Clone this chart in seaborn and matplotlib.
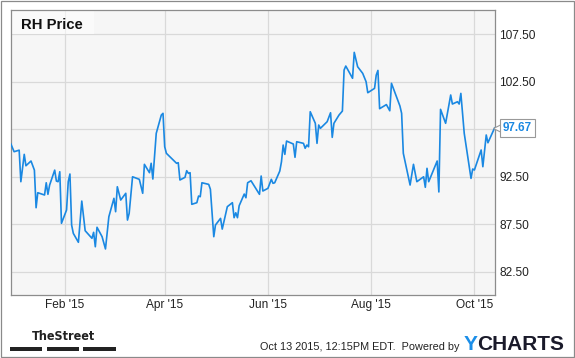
import matplotlib
matplotlib.use("Agg")
import matplotlib.pyplot as plt
import matplotlib.transforms as mtransforms
from matplotlib.patches import Rectangle
from matplotlib import font_manager
import pandas as pd
import seaborn as sns

# ---------------- data ----------------
dates = [
    "2014-12-31", "2015-01-02", "2015-01-05", "2015-01-06", "2015-01-08", "2015-01-09",
    "2015-01-12", "2015-01-14", "2015-01-15", "2015-01-16", "2015-01-20", "2015-01-21",
    "2015-01-22", "2015-01-23", "2015-01-26", "2015-01-27", "2015-01-28", "2015-01-29",
    "2015-01-30", "2015-02-02", "2015-02-03", "2015-02-04", "2015-02-05", "2015-02-06",
    "2015-02-09", "2015-02-11", "2015-02-13", "2015-02-17", "2015-02-18", "2015-02-19",
    "2015-02-20", "2015-02-23", "2015-02-25", "2015-02-27", "2015-03-02", "2015-03-03",
    "2015-03-04", "2015-03-06", "2015-03-09", "2015-03-10", "2015-03-11", "2015-03-13",
    "2015-03-17", "2015-03-19", "2015-03-20", "2015-03-23", "2015-03-24", "2015-03-25",
    "2015-03-27", "2015-03-30", "2015-03-31", "2015-04-01", "2015-04-02", "2015-04-08",
    "2015-04-09", "2015-04-10", "2015-04-13", "2015-04-14", "2015-04-15", "2015-04-16",
    "2015-04-17", "2015-04-20", "2015-04-21", "2015-04-22", "2015-04-23", "2015-04-27",
    "2015-04-28", "2015-04-30", "2015-05-01", "2015-05-04", "2015-05-05", "2015-05-06",
    "2015-05-08", "2015-05-11", "2015-05-12", "2015-05-13", "2015-05-14", "2015-05-15",
    "2015-05-18", "2015-05-19", "2015-05-20", "2015-05-22", "2015-05-27", "2015-05-28",
    "2015-05-29", "2015-06-01", "2015-06-03", "2015-06-04", "2015-06-05", "2015-06-08",
    "2015-06-09", "2015-06-10", "2015-06-11", "2015-06-12", "2015-06-15", "2015-06-16",
    "2015-06-17", "2015-06-18", "2015-06-22", "2015-06-23", "2015-06-24", "2015-06-25",
    "2015-06-26", "2015-06-29", "2015-06-30", "2015-07-01", "2015-07-02", "2015-07-06",
    "2015-07-08", "2015-07-09", "2015-07-10", "2015-07-13", "2015-07-15", "2015-07-16",
    "2015-07-17", "2015-07-21", "2015-07-22", "2015-07-24", "2015-07-27", "2015-07-29",
    "2015-07-30", "2015-08-03", "2015-08-04", "2015-08-05", "2015-08-06", "2015-08-10",
    "2015-08-12", "2015-08-13", "2015-08-18", "2015-08-19", "2015-08-20", "2015-08-24",
    "2015-08-26", "2015-08-28", "2015-09-01", "2015-09-02", "2015-09-03", "2015-09-04",
    "2015-09-09", "2015-09-10", "2015-09-11", "2015-09-14", "2015-09-17", "2015-09-18",
    "2015-09-21", "2015-09-22", "2015-09-23", "2015-09-25", "2015-09-28", "2015-09-29",
    "2015-09-30", "2015-10-01", "2015-10-05", "2015-10-06", "2015-10-08", "2015-10-09",
    "2015-10-13",
]
prices = [
    96.00, 95.14, 95.30, 91.98, 94.86, 93.66,
    94.16, 93.20, 89.24, 90.82, 90.58, 91.87,
    90.65, 91.63, 93.20, 92.05, 91.98, 93.03,
    87.60, 89.00, 91.98, 92.79, 87.42, 86.54,
    85.60, 89.94, 86.82, 86.02, 86.65, 85.13,
    87.18, 86.19, 84.90, 88.29, 90.23, 88.82,
    91.45, 90.05, 90.76, 87.94, 88.65, 92.50,
    92.23, 90.76, 93.81, 92.93, 93.92, 92.26,
    97.07, 99.00, 99.18, 95.66, 94.97, 93.92,
    93.98, 92.16, 92.44, 93.14, 92.86, 92.93,
    89.60, 89.77, 90.47, 90.40, 91.87, 91.70,
    91.18, 86.19, 87.42, 88.12, 86.99, 87.77,
    89.35, 89.77, 88.19, 88.71, 88.19, 89.45,
    90.68, 90.29, 91.87, 92.08, 90.65, 92.58,
    91.00, 91.28, 92.23, 91.81, 91.87, 93.10,
    94.08, 95.84, 94.86, 96.26, 96.02, 95.95,
    94.55, 96.19, 96.02, 95.50, 95.84, 95.66,
    99.35, 98.13, 96.02, 97.95, 97.60, 98.30,
    99.24, 96.65, 98.13, 99.00, 99.42, 103.74,
    104.16, 102.87, 105.60, 104.09, 103.39, 102.51,
    101.35, 101.81, 103.21, 103.70, 99.67, 100.10,
    99.45, 102.34, 99.95, 99.18, 94.97, 91.63,
    93.81, 91.98, 92.50, 91.39, 93.39, 91.98,
    94.16, 90.90, 99.60, 98.13, 101.11, 100.16,
    100.40, 100.16, 101.28, 97.07, 93.56, 92.33,
    93.32, 93.21, 95.32, 93.56, 96.90, 96.08,
    97.67,
]
series_name = "RH Price"
last_label = "97.67"
xtick_dates = ["2015-02-01", "2015-04-01", "2015-06-01", "2015-08-01", "2015-10-01"]
xtick_labels = ["Feb '15", "Apr '15", "Jun '15", "Aug '15", "Oct '15"]
ytick_values = [82.5, 87.5, 92.5, 97.5, 102.5, 107.5]
ytick_labels = ["82.50", "87.50", "92.50", "", "102.50", "107.50"]
x_range = ["2014-12-31", "2015-10-13"]
y_range = [80.05, 110.03]
footer_time = "Oct 13 2015, 12:15PM EDT.  Powered by"

# ---------------- style ----------------
LINE = "#1a88e2"
sns.set_style("white", {
    "axes.facecolor": "#f6f6f6",
    "axes.edgecolor": "#8c8c8c",
    "grid.color": "#d9d9d9",
})
plt.rcParams["font.family"] = ["Liberation Sans", "DejaVu Sans"]

df = pd.DataFrame({"date": pd.to_datetime(dates), "price": prices})

W, H = 575, 358
fig = plt.figure(figsize=(W / 100, H / 100), dpi=100)
fig.patch.set_facecolor("white")

# axes rect in pixel coordinates -> figure fraction
L, R, T, B = 10.7, 494.7, 10.3, 295.0
ax = fig.add_axes([L / W, (H - B) / H, (R - L) / W, (B - T) / H])

sns.lineplot(data=df, x="date", y="price", ax=ax, color=LINE, linewidth=1.2,
             legend=False, zorder=3)

ax.set_xlim(pd.Timestamp(x_range[0]), pd.Timestamp(x_range[1]))
ax.set_ylim(*y_range)
ax.set_xticks(pd.to_datetime(xtick_dates))
ax.set_xticklabels(xtick_labels)
ax.set_yticks(ytick_values)
ax.set_yticklabels(ytick_labels)
ax.yaxis.tick_right()
ax.tick_params(axis="both", length=0, labelsize=8.6, colors="#222222")
ax.tick_params(axis="x", pad=3.0)
ax.tick_params(axis="y", pad=3.3)
ax.grid(True, color="#d9d9d9", linewidth=0.9, zorder=0)
ax.set_axisbelow(True)
ax.set_xlabel("")
ax.set_ylabel("")
for s in ax.spines.values():
    s.set_color("#8c8c8c")
    s.set_linewidth(0.9)

# legend box top-left
bw, bh = 83.3 / (R - L), 24.0 / (B - T)
ax.add_patch(Rectangle((0, 1 - bh), bw, bh, transform=ax.transAxes,
                       facecolor="white", alpha=0.55, edgecolor="none", zorder=2))
ax.text(10.3 / (R - L), 1 - 19.0 / (B - T), series_name, transform=ax.transAxes,
        fontsize=10.7, fontweight="bold", color="#111111", ha="left", va="baseline",
        zorder=4)

# last value marker
last_x, last_y = df["date"].iloc[-1], df["price"].iloc[-1]
notch_tr = mtransforms.offset_copy(ax.transData, fig=fig, x=3.2, y=0, units="dots")
ax.plot([last_x], [last_y], marker="<", markersize=6.5, markerfacecolor="white",
        markeredgecolor="#999999", markeredgewidth=0.8, linestyle="none",
        transform=notch_tr, clip_on=False, zorder=5)
ax.annotate(last_label, xy=(last_x, last_y), xytext=(5.6, 0), textcoords="offset points",
            ha="left", va="center", fontsize=8.4, fontweight="bold", color=LINE,
            annotation_clip=False, zorder=6,
            bbox=dict(boxstyle="square,pad=0.25", facecolor="white",
                      edgecolor="#999999", linewidth=0.8))

# ---------------- footer ----------------
def fx(x):
    return x / W

def fy(y):
    return (H - y) / H

# pick a condensed bold face if one is installed
names = {f.name for f in font_manager.fontManager.ttflist}
if "Liberation Sans Narrow" in names:
    street_font = dict(family=["Liberation Sans Narrow"], fontsize=10.8)
elif "DejaVu Sans Condensed" in names:
    street_font = dict(family=["DejaVu Sans Condensed"], fontsize=9.6)
else:
    street_font = dict(family=["DejaVu Sans"], fontstretch="condensed", fontsize=9.0)
fig.text(fx(63), fy(340), "TheStreet", ha="center", va="baseline",
         fontweight="bold", color="#222222", **street_font)
for x0, x1 in [(10, 42.3), (46.7, 79.3), (83.3, 116)]:
    fig.patches.append(Rectangle((fx(x0), fy(350.7)), (x1 - x0) / W, 3.4 / H,
                                 transform=fig.transFigure, facecolor="#222222",
                                 edgecolor="none"))

fig.text(fx(459.5), fy(349.5), footer_time, ha="right", va="baseline",
         fontsize=7.8, color="#222222")
ty = fig.text(fx(463.3), fy(350), "Y", ha="left", va="baseline", fontsize=15,
              fontweight="bold", color="#1b8ee8")
fig.canvas.draw()
ext = ty.get_window_extent()
fig.text(ext.x1 / W, fy(350), "CHARTS", ha="left", va="baseline", fontsize=15,
         fontweight="bold", color="#1a1a2a")

# figure border
fig.patches.append(Rectangle((0.5 / W, 1.5 / H), 573 / W, 356 / H,
                             transform=fig.transFigure, fill=False,
                             edgecolor="#8a8a8a", linewidth=0.9))

fig.savefig("out.png", dpi=100, facecolor="white")
